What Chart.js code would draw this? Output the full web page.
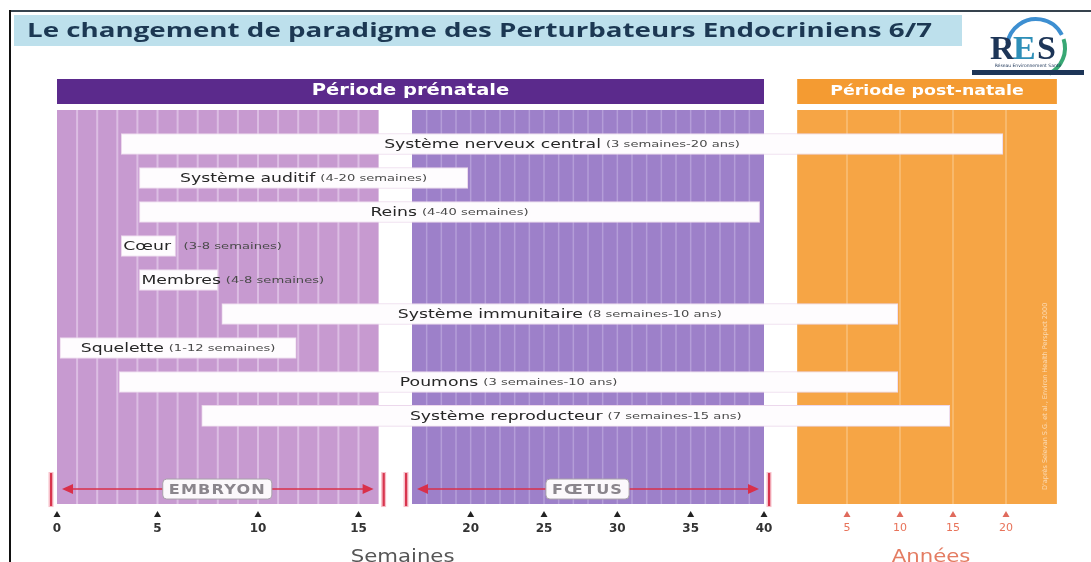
<!DOCTYPE html>
<html><head><meta charset="utf-8">
<style>html,body{margin:0;padding:0;background:#fff;overflow:hidden}canvas{display:block}</style>
<script src="https://cdn.jsdelivr.net/npm/chart.js@4.4.0/dist/chart.umd.min.js"></script>
</head><body><canvas id="c" width="1091" height="562"></canvas>
<script>
// ---------- DATA ----------
const titleText = 'Le changement de paradigme des Perturbateurs Endocriniens 6/7';
const organs = ['Système nerveux central', 'Système auditif', 'Reins', 'Cœur', 'Membres',
  'Système immunitaire', 'Squelette', 'Poumons', 'Système reproducteur'];
const periods = ['(3 semaines-20 ans)', '(4-20 semaines)', '(4-40 semaines)', '(3-8 semaines)',
  '(4-8 semaines)', '(8 semaines-10 ans)', '(1-12 semaines)', '(3 semaines-10 ans)', '(7 semaines-15 ans)'];
const barStartWeeks = [3.2, 4.1, 4.1, 3.2, 4.1, 8.2, 0.15, 3.1, 7.2];
const barEndValues = [19.7, 19.8, 39.7, 5.9, 8.0, 9.8, 11.9, 9.8, 14.7];
const barEndUnits = ['ans', 'semaines', 'semaines', 'semaines', 'semaines', 'ans', 'semaines', 'ans', 'ans'];
const weekTicks = [0, 5, 10, 15, 20, 25, 30, 35, 40];
const yearTicks = [5, 10, 15, 20];
const phaseNames = ['EMBRYON', 'FŒTUS'];
const phaseStartWeeks = [0, 16];
const phaseEndWeeks = [16, 40];
const postnatalYears = [0.3, 24.8];
const periodHeaders = ['Période prénatale', 'Période post-natale'];
const axisTitles = ['Semaines', 'Années'];
const sourceNote = "D'après Selevan S.G. et al., Environ Health Perspect 2000";

// ---------- timeline scale ----------
const WEEKS_PER_YEAR = 52;
function tl(v, unit) { return unit === 'ans' ? 40 + v * WEEKS_PER_YEAR : v; }
const CW = 1091;
const segments = [
  { from: 0, to: 16, start: 57 / CW, end: 378.6 / CW },
  { from: 16, to: 40, start: 412 / CW, end: 764 / CW },
  { from: 40, to: 40 + 25 * WEEKS_PER_YEAR, start: 794 / CW, end: 1059 / CW }
];
class TimelineScale extends Chart.LinearScale {
  buildTicks() {
    return weekTicks.map(v => ({ value: tl(v, 'semaines') }))
      .concat(yearTicks.map(v => ({ value: tl(v, 'ans') })));
  }
  valueToFrac(v) {
    for (let i = 0; i < segments.length; i++) {
      const s = segments[i];
      if (v <= s.to || i === segments.length - 1) {
        const t = (v - s.from) / (s.to - s.from);
        return s.start + t * (s.end - s.start);
      }
    }
  }
  getPixelForValue(v) { return this.left + this.valueToFrac(v) * this.width; }
  getValueForPixel(p) {
    const f = (p - this.left) / this.width;
    let s = segments[segments.length - 1];
    for (const g of segments) { if (f <= g.end) { s = g; break; } }
    return s.from + (f - s.start) / (s.end - s.start) * (s.to - s.from);
  }
}
TimelineScale.id = 'timeline';
TimelineScale.defaults = Chart.LinearScale.defaults;
Chart.register(TimelineScale);

// ---------- helpers ----------
function sText(ctx, txt, x, y, font, color, sx, align, baseline) {
  ctx.save();
  ctx.font = font; ctx.fillStyle = color; ctx.textBaseline = baseline || 'middle'; ctx.textAlign = 'left';
  const w = ctx.measureText(txt).width * sx;
  const x0 = align === 'center' ? x - w / 2 : align === 'right' ? x - w : x;
  ctx.translate(x0, y); ctx.scale(sx, 1); ctx.fillText(txt, 0, 0);
  ctx.restore();
  return w;
}
function measure(ctx, txt, font, sx) { ctx.save(); ctx.font = font; const w = ctx.measureText(txt).width * sx; ctx.restore(); return w; }
function rrect(ctx, x, y, w, h, r) {
  ctx.beginPath(); ctx.moveTo(x + r, y); ctx.lineTo(x + w - r, y); ctx.quadraticCurveTo(x + w, y, x + w, y + r);
  ctx.lineTo(x + w, y + h - r); ctx.quadraticCurveTo(x + w, y + h, x + w - r, y + h); ctx.lineTo(x + r, y + h);
  ctx.quadraticCurveTo(x, y + h, x, y + h - r); ctx.lineTo(x, y + r); ctx.quadraticCurveTo(x, y, x + r, y); ctx.closePath();
}
const SX = 1.38;
const NAME_FONT = '12.5px "DejaVu Sans"';
const RANGE_FONT = '9.5px "DejaVu Sans"';
const ARROW_ROW = 10.15;

const decor = {
  id: 'decor',
  beforeDraw(chart) {
    const ctx = chart.ctx, xs = chart.scales.x;
    ctx.save();
    ctx.fillStyle = '#fff'; ctx.fillRect(0, 0, chart.width, chart.height);
    ctx.fillStyle = '#36434e'; ctx.fillRect(10, 10, chart.width - 10, 2);
    ctx.fillStyle = '#111'; ctx.fillRect(9, 10, 2, chart.height - 10);
    ctx.fillStyle = '#bde0ec'; ctx.fillRect(14, 15, 948, 31);
    ctx.font = 'bold 20px "Open Sans"';
    const tw = ctx.measureText(titleText).width;
    sText(ctx, titleText, 27, 31, 'bold 20px "Open Sans"', '#1c3853', 905 / tw, 'left');
    // logo
    ctx.lineWidth = 4; ctx.strokeStyle = '#3d8fd1';
    ctx.beginPath(); ctx.arc(1036, 48, 29, Math.PI * 1.05, Math.PI * 1.85); ctx.stroke();
    ctx.strokeStyle = '#38a874';
    ctx.beginPath(); ctx.arc(1036, 48, 29, Math.PI * 1.9, Math.PI * 2.35); ctx.stroke();
    sText(ctx, 'R', 990, 50, 'bold 34px "Liberation Serif"', '#1d3557', 1.0, 'left');
    sText(ctx, 'E', 1013, 50, 'bold 34px "Liberation Serif"', '#2e8fb8', 1.0, 'left');
    sText(ctx, 'S', 1037, 50, 'bold 34px "Liberation Serif"', '#1d3557', 1.0, 'left');
    ctx.fillStyle = '#1d3557'; ctx.fillRect(972, 70, 112, 5);
    sText(ctx, 'Réseau Environnement Santé', 1028, 66, '4.5px "DejaVu Sans"', '#1d3557', 1, 'center');
    // headers
    const pre0 = xs.getPixelForValue(tl(phaseStartWeeks[0], 'semaines'));
    const pre1 = xs.getPixelForValue(tl(phaseEndWeeks[1], 'semaines'));
    const post0 = xs.getPixelForValue(tl(postnatalYears[0], 'ans'));
    const post1 = xs.getPixelForValue(tl(postnatalYears[1], 'ans'));
    ctx.fillStyle = '#5b2a8c'; ctx.fillRect(pre0, 79, pre1 - pre0, 25);
    ctx.fillStyle = '#f49b32'; ctx.fillRect(post0, 79, post1 - post0, 25);
    sText(ctx, periodHeaders[0], (pre0 + pre1) / 2, 91.5, 'bold 15px "DejaVu Sans"', '#fff', 1.3, 'center');
    sText(ctx, periodHeaders[1], (post0 + post1) / 2, 91.5, 'bold 14.5px "DejaVu Sans"', '#fff', 1.2, 'center');
    ctx.restore();
  },
  beforeDatasetsDraw(chart) {
    const ctx = chart.ctx, xs = chart.scales.x, a = chart.chartArea;
    const top = a.top, h = a.bottom - a.top;
    ctx.save();
    const e0 = xs.getPixelForValue(tl(phaseStartWeeks[0], 'semaines'));
    const e1 = xs.getPixelForValue(tl(phaseEndWeeks[0], 'semaines'));
    ctx.fillStyle = '#c79ad0'; ctx.fillRect(e0, top, e1 - e0, h);
    ctx.fillStyle = '#dcbde3';
    for (let w = 1; w < phaseEndWeeks[0]; w++) { const p = xs.getPixelForValue(w); ctx.fillRect(p - 1, top, 2, h); }
    const f0 = xs.getPixelForValue(tl(phaseStartWeeks[1], 'semaines') + 1e-6);
    const f1 = xs.getPixelForValue(tl(phaseEndWeeks[1], 'semaines'));
    ctx.fillStyle = '#9d80c9'; ctx.fillRect(f0, top, f1 - f0, h);
    ctx.fillStyle = '#b49dd8';
    for (let w = phaseStartWeeks[1] + 1; w < phaseEndWeeks[1]; w++) { const p = xs.getPixelForValue(w); ctx.fillRect(p - 0.75, top, 1.5, h); }
    const p0 = xs.getPixelForValue(tl(postnatalYears[0], 'ans'));
    const p1 = xs.getPixelForValue(tl(postnatalYears[1], 'ans'));
    ctx.fillStyle = '#f6a545'; ctx.fillRect(p0, top, p1 - p0, h);
    ctx.fillStyle = '#f9c07a';
    for (const y of yearTicks) { const p = xs.getPixelForValue(tl(y, 'ans')); ctx.fillRect(p - 0.75, top, 1.5, h); }
    ctx.translate(p1 - 12, a.bottom - 14); ctx.rotate(-Math.PI / 2);
    ctx.font = '6.5px "DejaVu Sans"'; ctx.fillStyle = 'rgba(255,255,255,0.6)'; ctx.textBaseline = 'middle';
    ctx.fillText(sourceNote, 0, 0);
    ctx.restore();
  },
  afterDatasetsDraw(chart) {
    const ctx = chart.ctx, xs = chart.scales.x, ys = chart.scales.y;
    ctx.save();
    const meta = chart.getDatasetMeta(0);
    meta.data.forEach((el, i) => {
      const { x, base, y } = el.getProps(['x', 'base', 'y'], true);
      const left = Math.min(x, base), right = Math.max(x, base);
      const wn = measure(ctx, organs[i], NAME_FONT, SX);
      const wr = measure(ctx, periods[i], RANGE_FONT, SX);
      const gap = 5;
      if (wn + gap + wr + 12 < right - left) {
        const sx0 = (left + right) / 2 - (wn + gap + wr) / 2;
        sText(ctx, organs[i], sx0, y + 0.5, NAME_FONT, '#262626', SX, 'left');
        sText(ctx, periods[i], sx0 + wn + gap, y + 1, RANGE_FONT, '#4a4a4a', SX, 'left');
      } else {
        sText(ctx, organs[i], left + 2, y + 0.5, NAME_FONT, '#262626', SX, 'left');
        sText(ctx, periods[i], right + 8, y + 1, RANGE_FONT, '#4a4a4a', SX, 'left');
      }
    });
    const ay = ys.getPixelForValue(ARROW_ROW);
    for (let k = 0; k < phaseNames.length; k++) {
      const s = xs.getPixelForValue(tl(phaseStartWeeks[k], 'semaines') + (k ? 1e-6 : 0));
      const e = xs.getPixelForValue(tl(phaseEndWeeks[k], 'semaines'));
      const bl = s - 6, br = e + 5;
      ctx.fillStyle = 'rgba(240,130,150,0.5)';
      ctx.fillRect(bl - 2.5, ay - 17, 5, 35); ctx.fillRect(br - 2.5, ay - 17, 5, 35);
      ctx.fillStyle = '#d8354e';
      ctx.fillRect(bl - 1, ay - 16, 2.2, 33); ctx.fillRect(br - 1, ay - 16, 2.2, 33);
      const l0 = s + 5, l1 = e - 5;
      ctx.strokeStyle = '#d9304a'; ctx.lineWidth = 1.6;
      ctx.beginPath(); ctx.moveTo(l0 + 8, ay); ctx.lineTo(l1 - 8, ay); ctx.stroke();
      ctx.fillStyle = '#d9304a';
      ctx.beginPath(); ctx.moveTo(l0, ay); ctx.lineTo(l0 + 11, ay - 5); ctx.lineTo(l0 + 11, ay + 5); ctx.closePath(); ctx.fill();
      ctx.beginPath(); ctx.moveTo(l1, ay); ctx.lineTo(l1 - 11, ay - 5); ctx.lineTo(l1 - 11, ay + 5); ctx.closePath(); ctx.fill();
      const font = 'bold 14px "DejaVu Sans"';
      ctx.save(); ctx.letterSpacing = '1px';
      const w = measure(ctx, phaseNames[k], font, 1.15);
      const cx = (bl + br) / 2;
      rrect(ctx, cx - w / 2 - 6, ay - 10, w + 12, 20, 4);
      ctx.fillStyle = '#fbf8fb'; ctx.fill(); ctx.strokeStyle = '#a8a0aa'; ctx.lineWidth = 1; ctx.stroke();
      sText(ctx, phaseNames[k], cx, ay + 1, font, '#8a858c', 1.15, 'center');
      ctx.restore();
    }
    ctx.restore();
  },
  afterDraw(chart) {
    const ctx = chart.ctx, xs = chart.scales.x;
    ctx.save();
    xs.ticks.forEach(t => {
      const p = xs.getPixelForValue(t.value);
      ctx.fillStyle = t.value > 40 ? '#e06a5c' : '#222';
      ctx.beginPath(); ctx.moveTo(p, 511); ctx.lineTo(p + 3.5, 517); ctx.lineTo(p - 3.5, 517); ctx.closePath(); ctx.fill();
    });
    sText(ctx, axisTitles[0], xs.getPixelForValue(16) + 24, 562, '17px "DejaVu Sans"', '#555', 1.25, 'center', 'alphabetic');
    const c = (xs.getPixelForValue(tl(postnatalYears[0], 'ans')) + xs.getPixelForValue(tl(postnatalYears[1], 'ans'))) / 2;
    sText(ctx, axisTitles[1], c + 4, 562, '17px "DejaVu Sans"', '#e47c62', 1.25, 'center', 'alphabetic');
    ctx.restore();
  }
};

new Chart(document.getElementById('c'), {
  type: 'bar',
  data: {
    labels: organs,
    datasets: [{
      data: organs.map((o, i) => ({ y: i, x: [tl(barStartWeeks[i], 'semaines'), tl(barEndValues[i], barEndUnits[i])] })),
      backgroundColor: '#fefcfe',
      borderColor: '#ecd8ec',
      borderWidth: 1,
      borderSkipped: false,
      barThickness: 21
    }]
  },
  options: {
    indexAxis: 'y',
    responsive: false,
    animation: false,
    events: [],
    layout: { padding: { top: 110, bottom: 18, left: 0, right: 0 } },
    scales: {
      x: {
        type: 'timeline',
        min: 0,
        max: tl(25, 'ans'),
        position: 'bottom',
        grid: { display: false, drawTicks: false },
        border: { display: false },
        afterFit(scale) { scale.height = 40; },
        ticks: {
          autoSkip: false, maxRotation: 0, padding: 18,
          callback: (v) => v > 40 ? String(Math.round((v - 40) / WEEKS_PER_YEAR)) : String(v),
          color: (c) => c.tick && c.tick.value > 40 ? '#e8735a' : '#333',
          font: (c) => c.tick && c.tick.value > 40 ? { family: 'DejaVu Sans', size: 11 } : { family: 'DejaVu Sans', size: 12, weight: 'bold' }
        }
      },
      y: { type: 'linear', min: -1, max: 10.59, reverse: true, display: false, offset: false, grid: { offset: false } }
    },
    plugins: { legend: { display: false }, tooltip: { enabled: false } }
  },
  plugins: [decor]
});
</script></body></html>
